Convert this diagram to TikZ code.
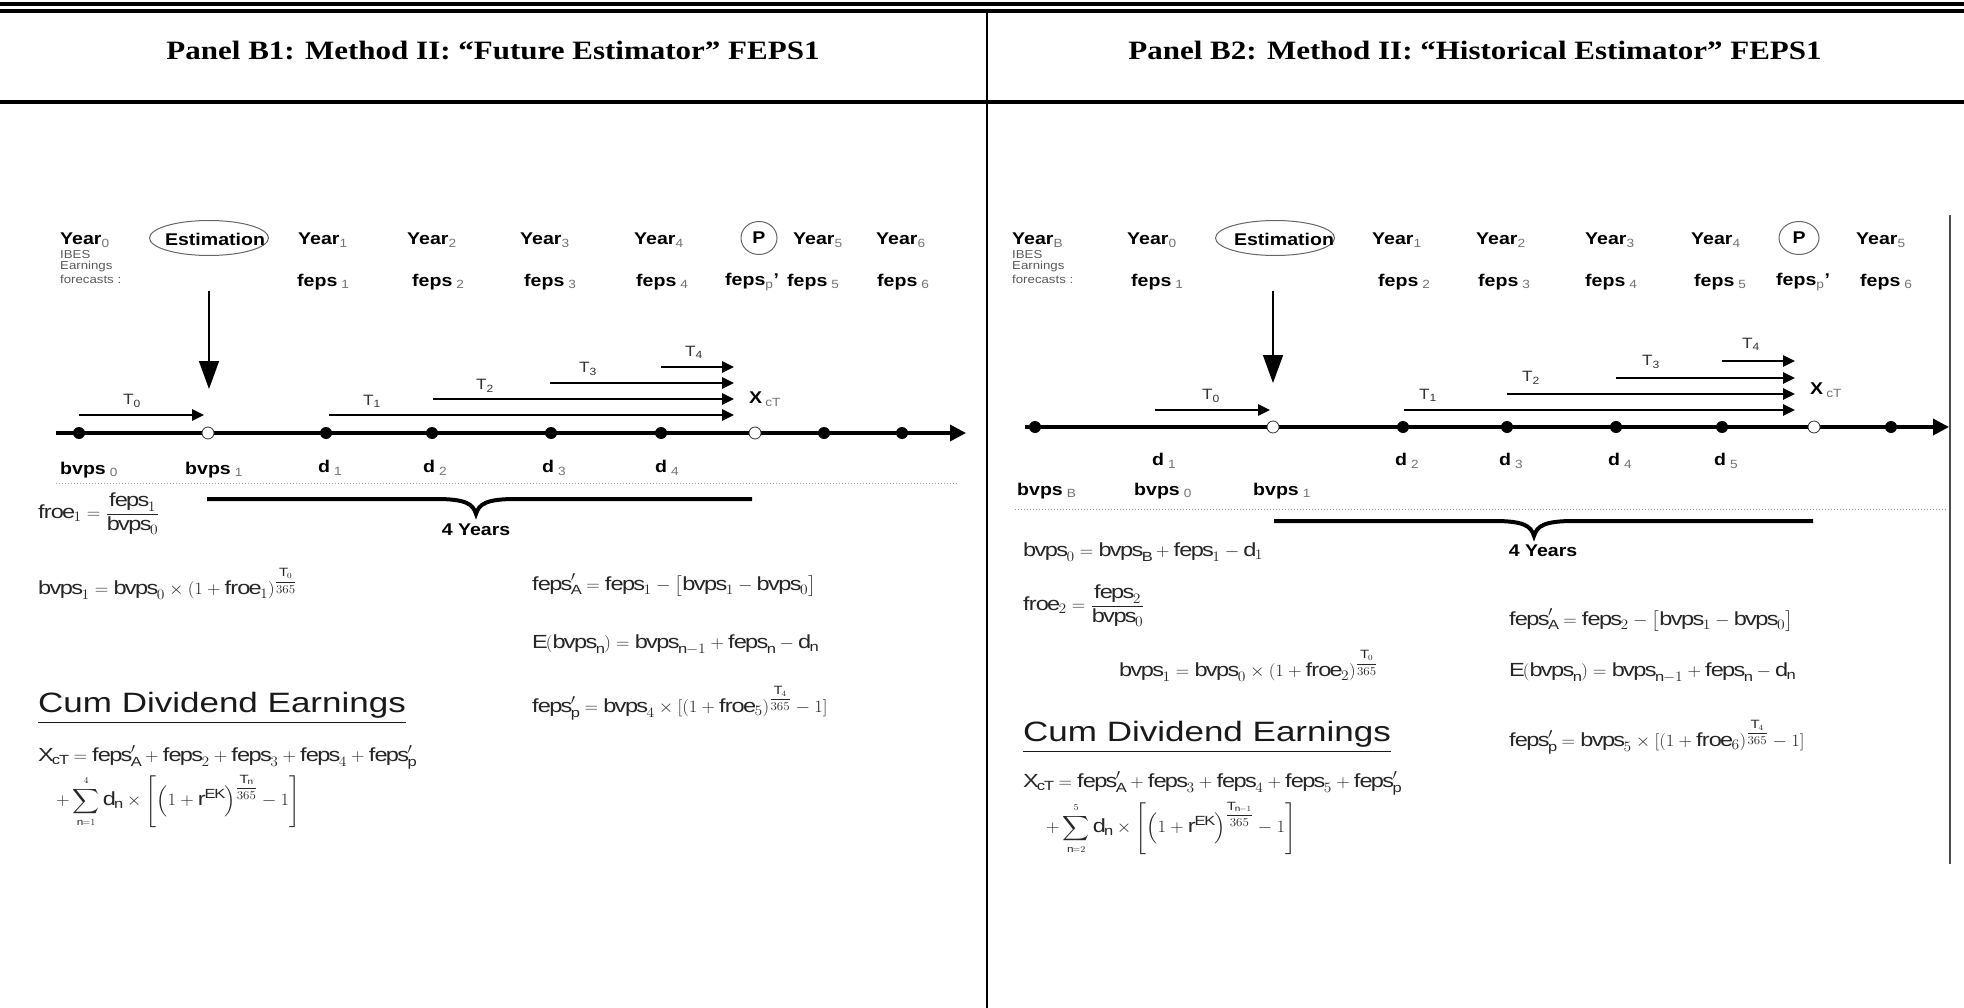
\documentclass[tikz,border=0pt]{standalone}
\usepackage{amsmath}
\usepackage{graphicx}
\usepackage{fontspec}
\setmainfont{Liberation Sans}[FakeStretch=1.15]
\newfontfamily\headfont{Liberation Serif}[FakeStretch=1.17]
\newfontfamily\cumfont{Liberation Sans}[FakeStretch=1.25]
\DeclareSymbolFont{operators}{TU}{\rmdefault}{m}{n}
\usetikzlibrary{arrows.meta,shapes.geometric}
\newcommand\mbv{\mathrm{bvps}}
\newcommand\mfe{\mathrm{feps}}
\newcommand\mfr{\mathrm{froe}}
\newcommand\mrm[1]{\mathrm{#1}}
\newcommand\ex[2]{\mbox{\fontsize{12}{12}\selectfont$\genfrac{}{}{0.4pt}{0}{#1}{#2}$}}
\newcommand\fx[1]{\scalebox{1.08}[1]{#1}}
\newcommand\lsb[1]{\textsubscript{\mdseries\textcolor{black!55}{#1}}}
\tikzset{
 yl/.style={font=\fontsize{17}{20}\selectfont\bfseries, inner sep=0pt, anchor=west},
 sm/.style={font=\fontsize{11.5}{13}\selectfont, text=black!65, inner sep=0pt, anchor=west},
 tlab/.style={font=\fontsize{15}{17}\selectfont, text=black!80, inner sep=0pt},
 fml/.style={font=\fontsize{19}{23}\selectfont, text=black!85, inner sep=0pt, anchor=west},
 cum/.style={font=\cumfont\fontsize{28}{30}\selectfont, text=black!90, inner sep=0pt, anchor=west},
 fdot/.style={circle, fill=black, inner sep=0pt, minimum size=12pt},
 odot/.style={circle, fill=white, draw=black!80, line width=0.8pt, inner sep=0pt, minimum size=12pt},
 tline/.style={line width=3.5pt, -{Triangle[width=16pt,length=16pt]}},
 tarr/.style={line width=2.5pt, -{Triangle[width=11pt,length=12pt]}},
 varr/.style={line width=1.5pt, -{Triangle[width=20pt,length=28pt]}},
 brc/.style={line width=4pt},
 dotl/.style={dotted, black!40, line width=1pt},
 ell/.style={ellipse, draw=black!60, line width=1pt, inner sep=0pt},
 headtxt/.style={font=\headfont\fontsize{26.5}{30}\selectfont\bfseries, inner sep=0pt, anchor=base},
}
\begin{document}
\begin{tikzpicture}[x=1pt,y=-1pt]
\useasboundingbox (0,0) rectangle (1964,1008);
% ---------- frame ----------
\coordinate (t1a) at (0,4); \coordinate (t1b) at (1964,4);
\coordinate (t2a) at (0,11.2); \coordinate (t2b) at (1964,11.2);
\coordinate (hba) at (0,102); \coordinate (hbb) at (1964,102);
\coordinate (dva) at (987,12); \coordinate (dvb) at (987,1008);
\draw[line width=4.5pt] (t1a) -- (t1b);
\draw[line width=3.6pt] (t2a) -- (t2b);
\draw[line width=3.5pt] (hba) -- (hbb);
\draw[line width=2pt] (dva) -- (dvb);
\node[headtxt] (hB1) at (493,60) {Panel B1: Method II: “Future Estimator” FEPS1};
\node[headtxt] (hB2) at (1475,60) {Panel B2: Method II: “Historical Estimator” FEPS1};

% ================= LEFT PANEL =================
\node[yl] (lY0) at (60,240) {Year\lsb{0}};
\node[sm] (lI1) at (60,255) {IBES};
\node[sm] (lI2) at (60,267) {Earnings};
\node[sm] (lI3) at (60,279) {forecasts :};
\node[ell, minimum width=119pt, minimum height=35pt] (lEst) at (209,238) {};
\node[yl, anchor=center] (lEstT) at (215,239) {Estimation};
\node[yl] (lY1) at (298,240) {Year\lsb{1}};
\node[yl] (lY2) at (407,240) {Year\lsb{2}};
\node[yl] (lY3) at (520,240) {Year\lsb{3}};
\node[yl] (lY4) at (634,240) {Year\lsb{4}};
\node[ell, minimum width=36pt, minimum height=33pt, font=\fontsize{17}{20}\selectfont\bfseries] (lP) at (759,238) {P};
\node[yl] (lY5) at (793,240) {Year\lsb{5}};
\node[yl] (lY6) at (876,240) {Year\lsb{6}};
\node[yl] (lf1) at (297,282) {feps\hspace{4pt}\lsb{1}};
\node[yl] (lf2) at (412,282) {feps\hspace{4pt}\lsb{2}};
\node[yl] (lf3) at (524,282) {feps\hspace{4pt}\lsb{3}};
\node[yl] (lf4) at (636,282) {feps\hspace{4pt}\lsb{4}};
\node[yl] (lfp) at (725,282) {feps\lsb{p}'};
\node[yl] (lf5) at (787,282) {feps\hspace{4pt}\lsb{5}};
\node[yl] (lf6) at (877,282) {feps\hspace{4pt}\lsb{6}};
% vertical arrow
\coordinate (lva) at (209,291); \coordinate (lvb) at (209,389);
\draw[varr] (lva) -- (lvb);
% timeline
\coordinate (ltlA) at (56,433); \coordinate (ltlB) at (966,433);
\draw[tline] (ltlA) -- (ltlB);
\node[fdot] (ld0) at (79,433) {};
\node[odot] (ldE) at (208,433) {};
\node[fdot] (ld1) at (326,433) {};
\node[fdot] (ld2) at (432,433) {};
\node[fdot] (ld3) at (551,433) {};
\node[fdot] (ld4) at (661,433) {};
\node[odot] (ldP) at (755,433) {};
\node[fdot] (ld5) at (824,433) {};
\node[fdot] (ld6) at (902,433) {};
% T arrows
\coordinate (lT0s) at (79,415); \coordinate (lT0e) at (204,415);
\coordinate (lT1s) at (329,415); \coordinate (lT1e) at (734,415);
\coordinate (lT2s) at (433,399); \coordinate (lT2e) at (734,399);
\coordinate (lT3s) at (550,383); \coordinate (lT3e) at (734,383);
\coordinate (lT4s) at (661,367); \coordinate (lT4e) at (734,367);
\draw[tarr] (lT0s) -- (lT0e);
\draw[tarr] (lT1s) -- (lT1e);
\draw[tarr] (lT2s) -- (lT2e);
\draw[tarr] (lT3s) -- (lT3e);
\draw[tarr] (lT4s) -- (lT4e);
\node[tlab] (lt0) at (132,401) {T\textsubscript{0}};
\node[tlab] (lt1) at (372,401) {T\textsubscript{1}};
\node[tlab] (lt2) at (485,386) {T\textsubscript{2}};
\node[tlab] (lt3) at (588,369) {T\textsubscript{3}};
\node[tlab] (lt4) at (694,352) {T\textsubscript{4}};
\node[yl] (lX) at (749,399) {X\hspace{3pt}\lsb{cT}};
% below labels
\node[yl] (lb0) at (60,470) {bvps\hspace{4pt}\lsb{0}};
\node[yl] (lb1) at (185,470) {bvps\hspace{4pt}\lsb{1}};
\node[yl] (ldd1) at (318,468) {d\hspace{4pt}\lsb{1}};
\node[yl] (ldd2) at (423,468) {d\hspace{4pt}\lsb{2}};
\node[yl] (ldd3) at (542,468) {d\hspace{4pt}\lsb{3}};
\node[yl] (ldd4) at (655,468) {d\hspace{4pt}\lsb{4}};
\coordinate (ldlA) at (56,483); \coordinate (ldlB) at (958,483);
\draw[dotl] (ldlA) -- (ldlB);
% brace
\coordinate (lbA) at (207,499); \coordinate (lbM) at (476,514); \coordinate (lbB) at (752,499);
\draw[brc] (lbA) -- (436,499) .. controls (466,499) and (473,504) .. (lbM) .. controls (479,504) and (486,499) .. (516,499) -- (lbB);
\node[yl, anchor=center] (l4y) at (476,530) {4 Years};
% formulas
\node[fml] (lF1) at (38,514) {\fx{$\mfr_1=\dfrac{\mfe_1}{\mbv_0}$}};
\node[fml] (lF2) at (38,584) {\fx{$\mbv_1=\mbv_0\times(1+\mfr_1)^{\ex{\mrm{T}_0}{365}}$}};
\node[fml] (lF3) at (532,585) {\fx{$\mfe'_{\mrm{A}}=\mfe_1-\bigl[\mbv_1-\mbv_0\bigr]$}};
\node[fml] (lF4) at (532,645) {\fx{$\mrm{E}(\mbv_{\mrm{n}})=\mbv_{\mrm{n}-1}+\mfe_{\mrm{n}}-\mrm{d}_{\mrm{n}}$}};
\node[cum] (lCum) at (38,708) {\underline{Cum Dividend Earnings}};
\node[fml] (lF5) at (532,703) {\fx{$\mfe'_{\mrm{p}}=\mbv_4\times[(1+\mfr_5)^{\ex{\mrm{T}_4}{365}}-1]$}};
\node[fml] (lF6) at (38,757) {\fx{$\mrm{X}_{\mrm{cT}}=\mfe'_{\mrm{A}}+\mfe_2+\mfe_3+\mfe_4+\mfe'_{\mrm{p}}$}};
\node[fml] (lF7) at (56,801) {\fx{$+\displaystyle\sum\limits_{\scriptscriptstyle\mrm{n}=1}^{\scriptscriptstyle 4}\mrm{d}_{\mrm{n}}\times\left[\left(1+\mrm{r}^{\mrm{EK}}\right)^{\ex{\mrm{T}_{\mrm{n}}}{365}}-1\right]$}};

% ================= RIGHT PANEL =================
\coordinate (rbA) at (1950,215); \coordinate (rbB) at (1950,864);
\draw[black!70, line width=1.5pt] (rbA) -- (rbB);
\node[yl] (rYB) at (1012,240) {Year\lsb{B}};
\node[sm] (rI1) at (1012,255) {IBES};
\node[sm] (rI2) at (1012,267) {Earnings};
\node[sm] (rI3) at (1012,279) {forecasts :};
\node[yl] (rY0) at (1127,240) {Year\lsb{0}};
\node[ell, minimum width=119pt, minimum height=35pt] (rEst) at (1275,238) {};
\node[yl, anchor=center] (rEstT) at (1284,239) {Estimation};
\node[yl] (rY1) at (1372,240) {Year\lsb{1}};
\node[yl] (rY2) at (1476,240) {Year\lsb{2}};
\node[yl] (rY3) at (1585,240) {Year\lsb{3}};
\node[yl] (rY4) at (1691,240) {Year\lsb{4}};
\node[ell, minimum width=40pt, minimum height=33pt, font=\fontsize{17}{20}\selectfont\bfseries] (rP) at (1799,238) {P};
\node[yl] (rY5) at (1856,240) {Year\lsb{5}};
\node[yl] (rf1) at (1131,282) {feps\hspace{4pt}\lsb{1}};
\node[yl] (rf2) at (1378,282) {feps\hspace{4pt}\lsb{2}};
\node[yl] (rf3) at (1478,282) {feps\hspace{4pt}\lsb{3}};
\node[yl] (rf4) at (1585,282) {feps\hspace{4pt}\lsb{4}};
\node[yl] (rf5) at (1694,282) {feps\hspace{4pt}\lsb{5}};
\node[yl] (rfp) at (1776,282) {feps\lsb{p}'};
\node[yl] (rf6) at (1860,282) {feps\hspace{4pt}\lsb{6}};
% vertical arrow
\coordinate (rva) at (1273,291); \coordinate (rvb) at (1273,383);
\draw[varr] (rva) -- (rvb);
% timeline
\coordinate (rtlA) at (1025,427); \coordinate (rtlB) at (1949,427);
\draw[tline] (rtlA) -- (rtlB);
\node[fdot] (rd0) at (1035,427) {};
\node[odot] (rdE) at (1273,427) {};
\node[fdot] (rd2) at (1403,427) {};
\node[fdot] (rd3) at (1507,427) {};
\node[fdot] (rd4) at (1616,427) {};
\node[fdot] (rd5) at (1722,427) {};
\node[odot] (rdP) at (1814,427) {};
\node[fdot] (rd6) at (1891,427) {};
% T arrows
\coordinate (rT0s) at (1155,410); \coordinate (rT0e) at (1270,410);
\coordinate (rT1s) at (1404,410); \coordinate (rT1e) at (1795,410);
\coordinate (rT2s) at (1507,394); \coordinate (rT2e) at (1795,394);
\coordinate (rT3s) at (1616,378); \coordinate (rT3e) at (1795,378);
\coordinate (rT4s) at (1722,361); \coordinate (rT4e) at (1795,361);
\draw[tarr] (rT0s) -- (rT0e);
\draw[tarr] (rT1s) -- (rT1e);
\draw[tarr] (rT2s) -- (rT2e);
\draw[tarr] (rT3s) -- (rT3e);
\draw[tarr] (rT4s) -- (rT4e);
\node[tlab] (rt0) at (1211,396) {T\textsubscript{0}};
\node[tlab] (rt1) at (1428,395) {T\textsubscript{1}};
\node[tlab] (rt2) at (1531,378) {T\textsubscript{2}};
\node[tlab] (rt3) at (1651,362) {T\textsubscript{3}};
\node[tlab] (rt4) at (1751,344) {T\textsubscript{4}};
\node[yl] (rX) at (1810,390) {X\hspace{3pt}\lsb{cT}};
% below labels
\node[yl] (rdd1) at (1152,461) {d\hspace{4pt}\lsb{1}};
\node[yl] (rdd2) at (1395,461) {d\hspace{4pt}\lsb{2}};
\node[yl] (rdd3) at (1499,461) {d\hspace{4pt}\lsb{3}};
\node[yl] (rdd4) at (1608,461) {d\hspace{4pt}\lsb{4}};
\node[yl] (rdd5) at (1714,461) {d\hspace{4pt}\lsb{5}};
\node[yl] (rbB0) at (1017,491) {bvps\hspace{4pt}\lsb{B}};
\node[yl] (rb0) at (1134,491) {bvps\hspace{4pt}\lsb{0}};
\node[yl] (rb1) at (1253,491) {bvps\hspace{4pt}\lsb{1}};
\coordinate (rdlA) at (1015,509); \coordinate (rdlB) at (1946,509);
\draw[dotl] (rdlA) -- (rdlB);
% brace
\coordinate (rbrA) at (1274,521); \coordinate (rbrM) at (1534,536); \coordinate (rbrB) at (1813,521);
\draw[brc] (rbrA) -- (1494,521) .. controls (1524,521) and (1531,526) .. (rbrM) .. controls (1537,526) and (1544,521) .. (1574,521) -- (rbrB);
\node[yl, anchor=center] (r4y) at (1543,551) {4 Years};
% formulas
\node[fml] (rF1) at (1023,552) {\fx{$\mbv_0=\mbv_{\mrm{B}}+\mfe_1-\mrm{d}_1$}};
\node[fml] (rF2) at (1023,606) {\fx{$\mfr_2=\dfrac{\mfe_2}{\mbv_0}$}};
\node[fml] (rF3) at (1119,666) {\fx{$\mbv_1=\mbv_0\times(1+\mfr_2)^{\ex{\mrm{T}_0}{365}}$}};
\node[fml] (rF4) at (1509,620) {\fx{$\mfe'_{\mrm{A}}=\mfe_2-\bigl[\mbv_1-\mbv_0\bigr]$}};
\node[fml] (rF5) at (1509,673) {\fx{$\mrm{E}(\mbv_{\mrm{n}})=\mbv_{\mrm{n}-1}+\mfe_{\mrm{n}}-\mrm{d}_{\mrm{n}}$}};
\node[cum] (rCum) at (1023,737) {\underline{Cum Dividend Earnings}};
\node[fml] (rF6) at (1509,737) {\fx{$\mfe'_{\mrm{p}}=\mbv_5\times[(1+\mfr_6)^{\ex{\mrm{T}_4}{365}}-1]$}};
\node[fml] (rF7) at (1023,783) {\fx{$\mrm{X}_{\mrm{cT}}=\mfe'_{\mrm{A}}+\mfe_3+\mfe_4+\mfe_5+\mfe'_{\mrm{p}}$}};
\node[fml] (rF8) at (1046,828) {\fx{$+\displaystyle\sum\limits_{\scriptscriptstyle\mrm{n}=2}^{\scriptscriptstyle 5}\mrm{d}_{\mrm{n}}\times\left[\left(1+\mrm{r}^{\mrm{EK}}\right)^{\ex{\mrm{T}_{\mrm{n}-1}}{365}}-1\right]$}};
\end{tikzpicture}
\end{document}
